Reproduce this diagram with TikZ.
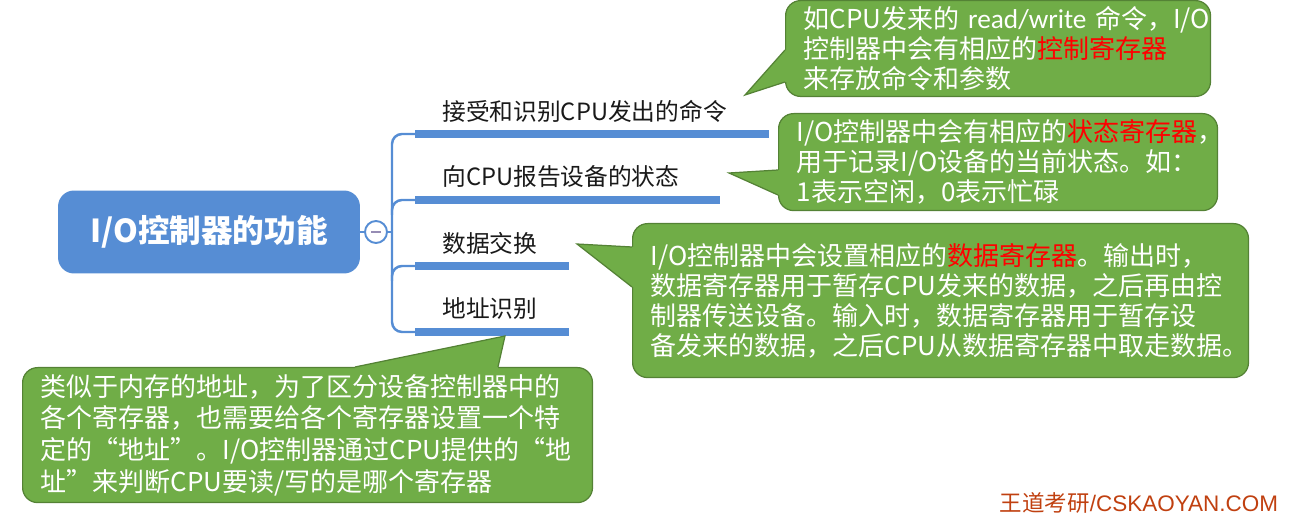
\documentclass[tikz,border=0pt]{standalone}
\usepackage{fontspec}
\setmainfont{Noto Sans CJK SC}
\newfontfamily\latinsans{Liberation Sans}
\newfontfamily\notelatin{Carlito}[Scale=1.05]
\usetikzlibrary{calc}

\definecolor{mapblue}{RGB}{86,141,212}
\definecolor{notegreen}{RGB}{112,173,71}
\definecolor{noteedge}{RGB}{84,130,53}
\definecolor{regred}{RGB}{255,0,0}
\definecolor{logored}{RGB}{192,64,16}
\definecolor{foldgrey}{RGB}{150,140,180}
\newcommand{\redtxt}[1]{\textcolor{regred}{#1}}

\begin{document}
\begin{tikzpicture}[
    x=0.02cm, y=-0.02cm,
    root/.style={rectangle, rounded corners=0.32cm, fill=mapblue, text=white, minimum width=6.04cm, minimum height=1.66cm, font=\fontsize{18}{22}\selectfont\bfseries},
    fold/.style={circle, draw=mapblue, fill=white, line width=1.1pt, minimum size=0.44cm, inner sep=0pt},
    branch/.style={anchor=west, inner xsep=0.54cm, inner ysep=0pt, align=left, text=black!90, font=\fontsize{13.5}{16}\selectfont},
    stem/.style={draw=mapblue, line width=1.4pt, rounded corners=0.2cm},
    uline/.style={draw=mapblue, line width=4pt},
    notebox/.style={rectangle, rounded corners=0.3cm, fill=notegreen, draw=noteedge, line width=0.7pt, text=white, anchor=north west, align=left, inner xsep=0.36cm, font=\fontsize{14.8}{17}\selectfont},
    tailfill/.style={fill=notegreen},
    tailline/.style={draw=noteedge, line width=0.7pt},
    logo/.style={text=logored, font=\fontsize{12.8}{15}\selectfont}
  ]
    \useasboundingbox (0,0) rectangle (1309,516);

    % root and fold button
    \node[root] (root) at (209,232) {I/O控制器的功能};
    \node[fold] (fold) at (376,232) {};
    \draw[foldgrey, line width=1.4pt] ($(fold.center)+(-5,0)$) -- ($(fold.center)+(5,0)$);
    \coordinate (spine) at (392,232);

    % branches
    \node[branch, text width=5.98cm] (cmd) at (415,111) {接受和识别CPU发出的命令};
    \node[branch, text width=5.0cm] (state) at (415,177) {向CPU报告设备的状态};
    \node[branch, text width=1.98cm] (xchg) at (415,243) {数据交换};
    \node[branch, text width=1.98cm] (addr) at (415,309) {地址识别};

    \coordinate (u1) at ($(cmd.west)+(0,23)$);
    \coordinate (u2) at ($(state.west)+(0,23)$);
    \coordinate (u3) at ($(xchg.west)+(0,23)$);
    \coordinate (u4) at ($(addr.west)+(0,23)$);

    \draw[stem] (root) -- (fold) -- (spine);
    \draw[stem] (u1) -- (u1 -| spine) -- (u4 -| spine) -- (u4);
    \draw[stem] (u2) -- (u2 -| spine) -- ++(0,15);
    \draw[stem] (u3) -- (u3 -| spine) -- ++(0,15);

    \draw[uline] (u1) -- ($(cmd.east)+(0,23)$);
    \draw[uline] (u2) -- ($(state.east)+(0,23)$);
    \draw[uline] (u3) -- ($(xchg.east)+(0,23)$);
    \draw[uline] (u4) -- ($(addr.east)+(0,23)$);

    % notes
    \node[notebox, text width=7.78cm, minimum width=8.5cm, minimum height=1.88cm] (cmdnote) at (785,0)
      {如CPU发来的~{\notelatin read/write}~命令，I/O\\控制器中会有相应的\redtxt{控制寄存器}\\来存放命令和参数};
    \node[notebox, text width=8.06cm, minimum width=8.78cm, minimum height=1.94cm] (statenote) at (778,113)
      {I/O控制器中会有相应的\redtxt{状态寄存器}，\\用于记录I/O设备的当前状态。如：\\1表示空闲，0表示忙碌};
    \node[notebox, text width=11.6cm, minimum width=12.32cm, minimum height=3.08cm] (xchgnote) at (632,223)
      {I/O控制器中会设置相应的\redtxt{数据寄存器}。输出时，\\数据寄存器用于暂存CPU发来的数据，之后再由控\\制器传送设备。输入时，数据寄存器用于暂存设\\备发来的数据，之后CPU从数据寄存器中取走数据。};
    \node[notebox, text width=10.68cm, minimum width=11.4cm, minimum height=2.7cm, font=\fontsize{14.8}{18}\selectfont] (addrnote) at (22,367)
      {类似于内存的地址，为了区分设备控制器中的\\各个寄存器，也需要给各个寄存器设置一个特\\定的“地址”。I/O控制器通过CPU提供的“地\\址”来判断CPU要读/写的是哪个寄存器};

    % note tails
    \coordinate (cmdtip) at (745,95);
    \coordinate (statetip) at (729,173);
    \coordinate (xchgtip) at (577,244);
    \coordinate (addrtip) at (505,336);

    \fill[tailfill] ($(cmdnote.north west)+(0,50)$) -- (cmdtip) -- ($(cmdnote.north west)+(0,82)$) -- ++(4,0) -- ($(cmdnote.north west)+(4,50)$) -- cycle;
    \draw[tailline] ($(cmdnote.north west)+(0,50)$) -- (cmdtip) -- ($(cmdnote.north west)+(0,82)$);

    \fill[tailfill] ($(statenote.north west)+(0,57)$) -- (statetip) -- ($(statenote.north west)+(0,82)$) -- ++(4,0) -- ($(statenote.north west)+(4,57)$) -- cycle;
    \draw[tailline] ($(statenote.north west)+(0,57)$) -- (statetip) -- ($(statenote.north west)+(0,82)$);

    \fill[tailfill] ($(xchgnote.north west)+(0,24)$) -- (xchgtip) -- ($(xchgnote.north west)+(0,64)$) -- ++(4,0) -- ($(xchgnote.north west)+(4,24)$) -- cycle;
    \draw[tailline] ($(xchgnote.north west)+(0,24)$) -- (xchgtip) -- ($(xchgnote.north west)+(0,64)$);

    \fill[tailfill] ($(addrnote.north west)+(333,0)$) -- (addrtip) -- ($(addrnote.north west)+(476,0)$) -- ++(0,4) -- ($(addrnote.north west)+(333,4)$) -- cycle;
    \draw[tailline] ($(addrnote.north west)+(333,0)$) -- (addrtip) -- ($(addrnote.north west)+(476,0)$);

    % site mark
    \node[logo] (mark) at (1139,503) {王道考研{\latinsans/CSKAOYAN.COM}};
  \end{tikzpicture}
\end{document}
